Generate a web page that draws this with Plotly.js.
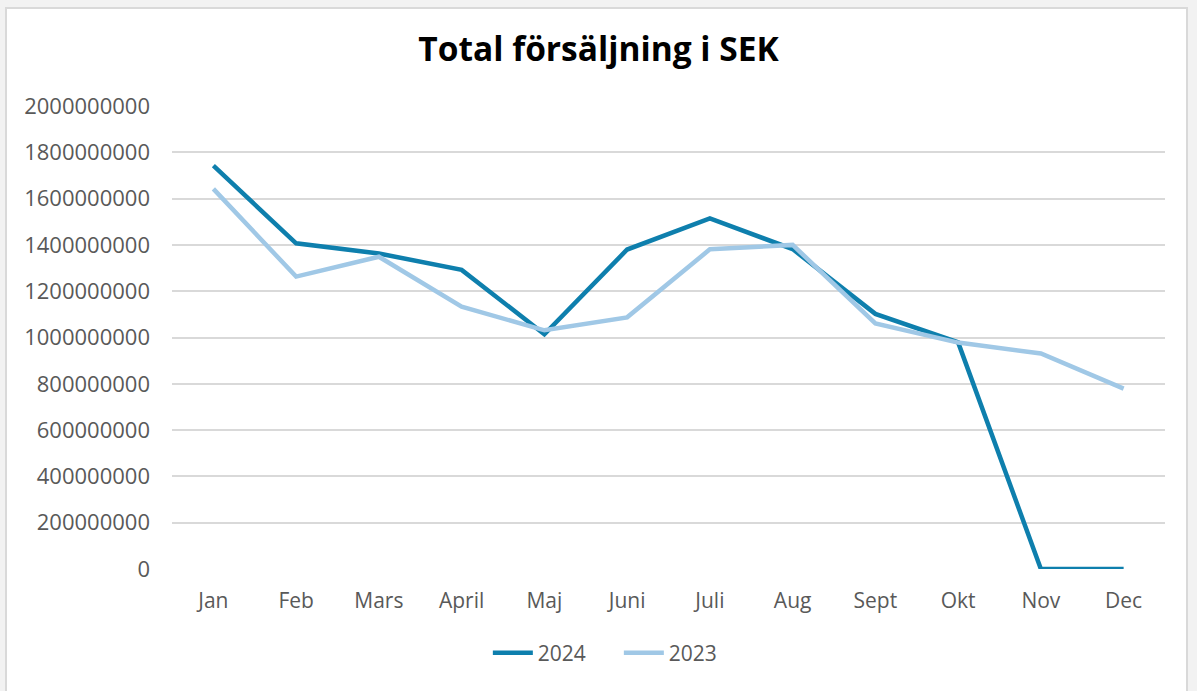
<!DOCTYPE html>
<html>
<head>
<meta charset="utf-8">
<script src="https://cdn.plot.ly/plotly-3.0.1.min.js"></script>
<style>
  html, body { margin: 0; padding: 0; background: #f2f2f2; }
  #frame { position: absolute; left: 5px; top: 7px; width: 1183px; height: 690px; background: #ffffff; border: 2px solid #d9d9d9; box-sizing: border-box; }
  #chart { position: absolute; left: 0; top: 0; width: 1197px; height: 691px; }
</style>
</head>
<body>
<div id="frame"></div>
<div id="chart"></div>
<script>
const months = ["Jan", "Feb", "Mars", "April", "Maj", "Juni", "Juli", "Aug", "Sept", "Okt", "Nov", "Dec"];
const sales2024 = [1742000000, 1407000000, 1363000000, 1292000000, 1014000000, 1380000000, 1514000000, 1382000000, 1102000000, 979000000, 0, 0];
const sales2023 = [1642000000, 1263000000, 1349000000, 1133000000, 1031000000, 1087000000, 1381000000, 1400000000, 1061000000, 978000000, 931000000, 779000000];
const yTicks = [0, 200000000, 400000000, 600000000, 800000000, 1000000000, 1200000000, 1400000000, 1600000000, 1800000000, 2000000000];
const yTickLabels = ["0", "200000000", "400000000", "600000000", "800000000", "1000000000", "1200000000", "1400000000", "1600000000", "1800000000", "2000000000"];

const fontFam = "'Open Sans', Inter, 'Liberation Sans', sans-serif";

const traces = [
  { x: months, y: sales2024, name: "2024", type: "scatter", mode: "lines",
    line: { color: "#0e7fad", width: 4.5 } },
  { x: months, y: sales2023, name: "2023", type: "scatter", mode: "lines",
    line: { color: "#a0c8e6", width: 4.5 } }
];

const layout = {
  width: 1197, height: 691,
  paper_bgcolor: "rgba(0,0,0,0)",
  plot_bgcolor: "rgba(0,0,0,0)",
  margin: { l: 172, r: 32, t: 106, b: 122 },
  title: { text: "<b>Total försäljning i SEK</b>", font: { family: fontFam, size: 33.5, color: "#000000" },
           x: 0.5, xref: "container", y: 0.928, yref: "container", xanchor: "center", yanchor: "middle" },
  xaxis: { type: "category", range: [-0.5, 11.5], showgrid: false, zeroline: false, showline: false, ticks: "",
           tickfont: { family: fontFam, size: 21, color: "#595959" }, ticklabelstandoff: 17, fixedrange: true },
  yaxis: { range: [0, 2000000000], tickvals: yTicks, ticktext: yTickLabels, showgrid: true,
           gridcolor: "#d9d9d9", gridwidth: 2, zeroline: false, showline: false, ticks: "",
           tickfont: { family: fontFam, size: 22, color: "#595959" }, ticklabelstandoff: 21, fixedrange: true },
  showlegend: true,
  legend: { orientation: "h", x: 0.517, xanchor: "center", xref: "container", y: 0.055, yref: "container", yanchor: "middle",
            font: { family: fontFam, size: 21, color: "#595959" }, itemwidth: 40, entrywidth: 76, traceorder: "normal" }
};

Plotly.newPlot("chart", traces, layout, { displayModeBar: false, staticPlot: true });
</script>
</body>
</html>
